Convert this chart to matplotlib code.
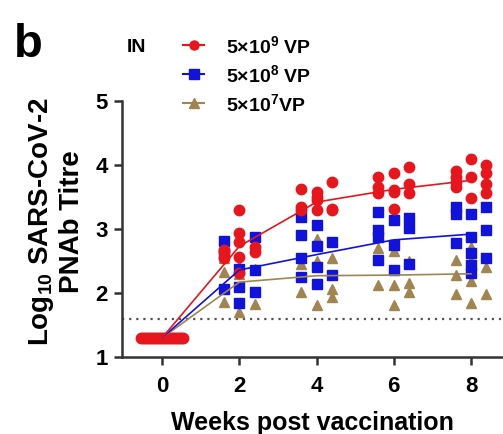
import numpy as np
import matplotlib
matplotlib.use("Agg")
import matplotlib.pyplot as plt
from matplotlib.lines import Line2D

plt.rcParams['font.family'] = ['Liberation Sans', 'DejaVu Sans']
plt.rcParams['font.weight'] = 'bold'
plt.rcParams['mathtext.fontset'] = 'custom'
plt.rcParams['mathtext.bf'] = 'Liberation Sans:bold'
plt.rcParams['mathtext.rm'] = 'Liberation Sans:bold'
plt.rcParams['mathtext.default'] = 'bf'

# time points (weeks)
weeks = [0, 2, 4, 6, 8]
baseline = 1.3   # week 0 value, all animals
n_baseline = 22
lod = 1.6        # dotted detection limit

labels = ["5×10$^{9}$ VP", "5×10$^{8}$ VP", "5×10$^{7}$VP"]
colors = ["#e8161c", "#1212dd", "#a08550"]

# individual titres, weeks 2..8, each week split in left / centre / right column
red_pts = [
    [[2.64, 2.54, 2.67], [3.29, 2.94, 2.79, 2.57, 2.31], [2.72, 2.64]],
    [[3.62, 3.30, 3.35], [3.58, 3.45, 3.30, 3.50], [3.74, 3.30, 3.32]],
    [[3.82, 3.66, 3.56], [3.87, 3.61, 3.32, 3.58], [3.97, 3.71, 3.56]],
    [[3.90, 3.82, 3.74, 3.66], [4.10, 3.82, 3.48], [4.00, 3.87, 3.71, 3.56]],
]
blue_pts = [
    [[2.81, 2.62, 2.07], [2.37, 2.09, 1.84], [2.88, 2.36, 2.02]],
    [[3.19, 2.91, 2.54, 2.25], [3.06, 2.73, 2.41, 2.14], [2.80, 2.28]],
    [[3.27, 2.98, 2.88, 2.52], [3.14, 2.75, 2.36], [3.17, 3.01, 2.46]],
    [[3.35, 3.24, 2.78], [3.24, 2.88, 2.62, 2.44, 2.31], [3.35, 2.98, 2.54]],
]
brown_pts = [
    [[2.33, 1.86, 2.55], [2.42, 2.30, 1.71], [2.38, 1.83]],
    [[2.45, 2.02], [2.85, 2.50, 1.81], [2.54, 2.07, 1.94]],
    [[2.70, 2.13], [2.65, 2.13, 1.81], [2.50, 2.15, 2.02]],
    [[2.52, 2.28, 1.99], [2.72, 2.50, 2.18, 1.84], [2.41, 1.99]],
]

# group means (connecting lines)
red_mean = [1.3, 2.73, 3.42, 3.62, 3.76]
blue_mean = [1.3, 2.36, 2.60, 2.83, 2.92]
brown_mean = [1.3, 2.17, 2.27, 2.28, 2.30]

groups = [
    (brown_pts, brown_mean, colors[2], '^', 7),
    (blue_pts, blue_mean, colors[1], 's', 6.8),
    (red_pts, red_mean, colors[0], 'o', 7.5),
]

fig = plt.figure(figsize=(5.03, 4.34), dpi=100)
ax = fig.add_axes([122 / 503, 1 - 357 / 434, 1 - 122 / 503, (357 - 101) / 434])

ax.axhline(lod, color='#555555', lw=1.6, ls=(0, (1, 2.2)), zorder=1)

col_off = [-0.4, 0.0, 0.4]
for pts, mean, c, m, ms in groups:
    # week 0, all at baseline (packed into one row, red on top)
    xs0 = np.linspace(-0.55, 0.55, n_baseline)
    ax.plot(xs0, [baseline] * n_baseline, ls='none', marker=m,
            ms=ms if m == 'o' else 4.5, color=c, mec=c, zorder=3)
    for wk, cols in zip(weeks[1:], pts):
        for off, vals in zip(col_off, cols):
            ax.plot([wk + off] * len(vals), vals, ls='none', marker=m, ms=ms,
                    color=c, mec=c, zorder=3)
    ax.plot(weeks, mean, color=c, lw=1.2, zorder=4)

ax.set_xlim(-1.04, 8.83)
ax.set_ylim(1, 5)
ax.set_xticks([0, 2, 4, 6, 8])
ax.set_yticks([1, 2, 3, 4, 5])
for s in ['top', 'right']:
    ax.spines[s].set_visible(False)
for s in ['left', 'bottom']:
    ax.spines[s].set_linewidth(1.8)
    ax.spines[s].set_color('#333333')
    ax.spines[s].set_zorder(5)
ax.tick_params(axis='both', length=6, width=1.8, color='#333333', labelsize=16)
ax.tick_params(axis='x', pad=8)
ax.tick_params(axis='y', pad=4)
for t in ax.get_xticklabels() + ax.get_yticklabels():
    t.set_fontweight('bold')
ax.patch.set_alpha(0)

ax.set_xlabel("Weeks post vaccination", fontsize=18, fontweight='bold', labelpad=10)
fig.text(56 / 503, 0.49, "Log$_{10}$ SARS-CoV-2\nPNAb Titre", rotation=90,
         ha='center', va='center', fontsize=20, fontweight='bold', multialignment='center',
         linespacing=1.15)

# panel letter and legend
fig.text(14 / 503, 1 - 45 / 434, "b", fontsize=34, fontweight='bold', ha='left', va='center')
fig.text(127 / 503, 1 - 47 / 434, "IN", fontsize=14, fontweight='bold', ha='left', va='center')
leg_y = [45, 74, 103]
leg_m = ['o', 's', '^']
for y, c, m, lab in zip(leg_y, colors, leg_m, labels):
    yf = 1 - y / 434
    fig.add_artist(Line2D([183 / 503, 204 / 503], [yf, yf], color=c, lw=1.5,
                          transform=fig.transFigure))
    fig.add_artist(Line2D([193.5 / 503], [yf], color=c, marker=m, ms=6.5, ls='none',
                          transform=fig.transFigure))
    fig.text(226 / 503, yf - 0.003, lab, fontsize=14, fontweight='bold', ha='left', va='center')

fig.savefig("out.png", dpi=100)
